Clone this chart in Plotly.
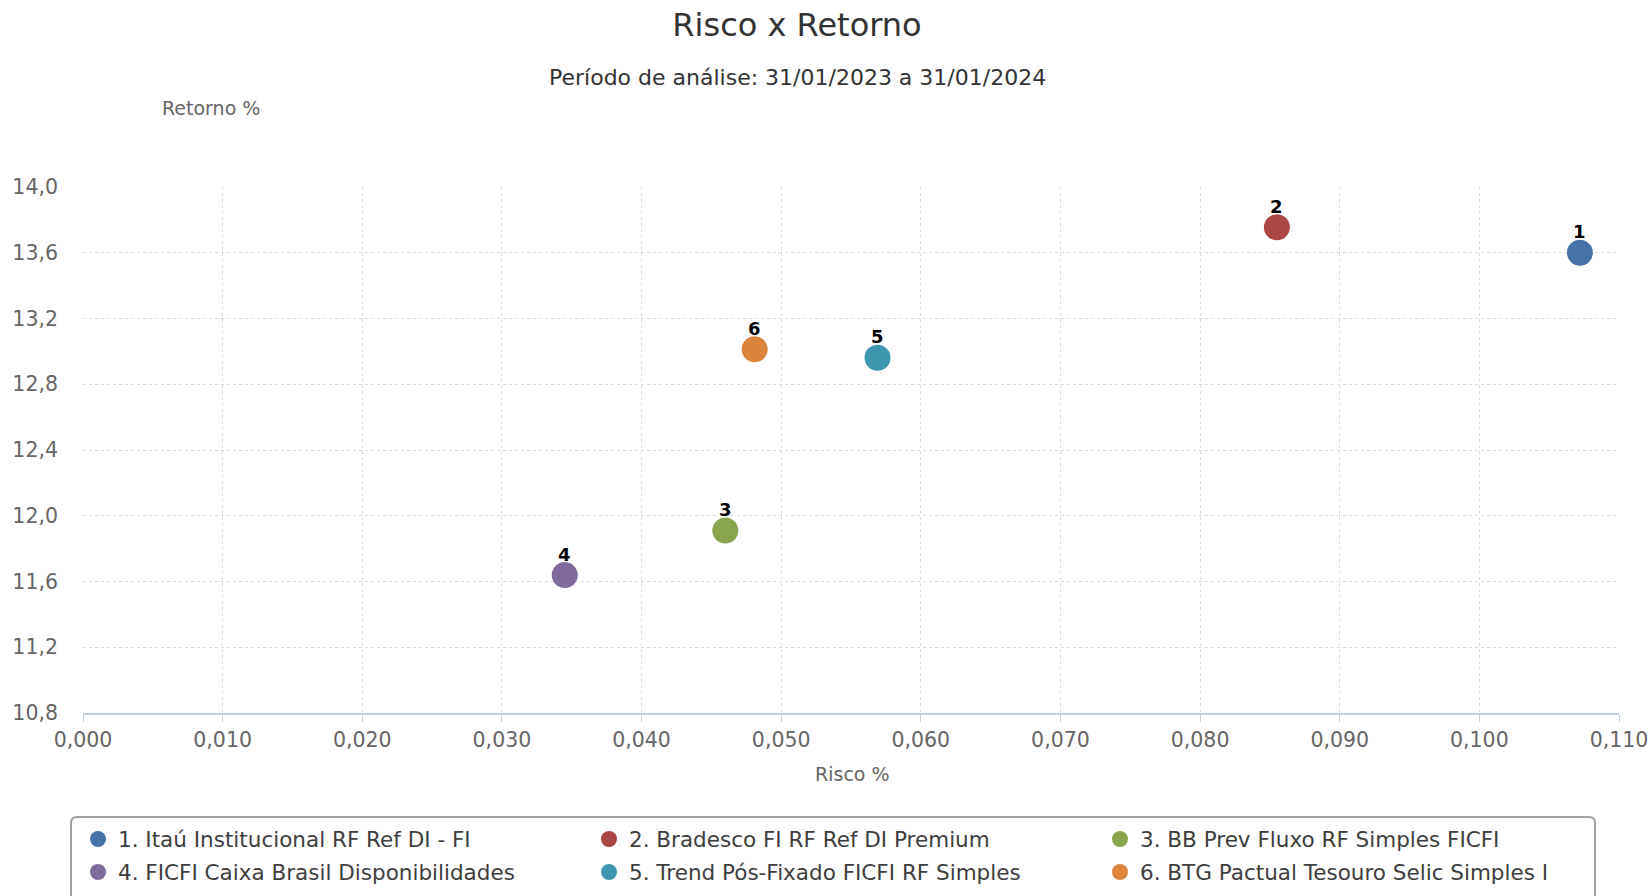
import plotly.graph_objects as go

# ---- data ----
fund_names = [
    "1. Itaú Institucional RF Ref DI - FI",
    "2. Bradesco FI RF Ref DI Premium",
    "3. BB Prev Fluxo RF Simples FICFI",
    "4. FICFI Caixa Brasil Disponibilidades",
    "5. Trend Pós-Fixado FICFI RF Simples",
    "6. BTG Pactual Tesouro Selic Simples I",
]
point_labels = ["1", "2", "3", "4", "5", "6"]
risco = [0.1072, 0.0855, 0.0460, 0.0345, 0.0569, 0.0481]
retorno = [13.600, 13.755, 11.910, 11.639, 12.961, 13.013]
colors = ["#4572A7", "#AA4643", "#89A54E", "#80699B", "#3D96AE", "#DB843D"]

x_ticks = [0.0, 0.01, 0.02, 0.03, 0.04, 0.05, 0.06, 0.07, 0.08, 0.09, 0.10, 0.11]
y_ticks = [10.8, 11.2, 11.6, 12.0, 12.4, 12.8, 13.2, 13.6, 14.0]

FONT = "DejaVu Sans"
W, H = 1650, 896
L, R, T, B = 83, 31, 187, 183
PW, PH = W - L - R, H - T - B


def px_x(px):
    return (px - L) / PW


def px_y(py):
    return (H - B - py) / PH


fig = go.Figure()
for i in range(len(fund_names)):
    fig.add_trace(go.Scatter(
        x=[risco[i]], y=[retorno[i]],
        mode="markers",
        name=fund_names[i],
        marker=dict(size=26, color=colors[i], line=dict(width=0)),
        legend="legend" if i < 3 else "legend2",
        cliponaxis=False,
    ))
    # point number label above each marker
    fig.add_annotation(x=risco[i], y=retorno[i], text=point_labels[i], showarrow=False,
                       xanchor="center", yanchor="middle", yshift=21,
                       font=dict(family=FONT, size=18, color="#000000", weight="bold",
                                 shadow="1px 1px 1px #fff, -1px -1px 1px #fff, 1px -1px 1px #fff, -1px 1px 1px #fff"))

legend_common = dict(orientation="h", x=px_x(78), xanchor="left", yanchor="middle",
                     entrywidth=466, entrywidthmode="pixels", bgcolor="rgba(0,0,0,0)",
                     font=dict(family=FONT, size=21.5, color="#3E3E3E"), itemsizing="trace")

fig.update_layout(
    width=W, height=H,
    margin=dict(l=L, r=R, t=T, b=B, autoexpand=False),
    paper_bgcolor="white", plot_bgcolor="white",
    separators=",.",
    font=dict(family=FONT, color="#666666"),
    title=dict(text="Risco x Retorno", x=797 / W, xanchor="center", xref="container",
               y=1 - 25 / H, yanchor="middle", yref="container",
               font=dict(family=FONT, size=32, color="#333333")),
    xaxis=dict(range=[0, 0.11], tickvals=x_ticks, tickformat=".3f",
               showgrid=True, gridcolor="#DADADA", griddash="dot", gridwidth=1,
               zeroline=False, showline=True, linecolor="#C0D0E0", linewidth=2,
               ticks="outside", ticklen=7, tickcolor="#C0D0E0", tickwidth=1,
               tickfont=dict(family=FONT, size=20.5, color="#666666")),
    yaxis=dict(range=[10.8, 14.0], tickvals=y_ticks, tickformat=".1f",
               showgrid=True, gridcolor="#DADADA", griddash="dot", gridwidth=1,
               zeroline=False, showline=False, ticks="", ticklabelstandoff=24,
               tickfont=dict(family=FONT, size=20.5, color="#666666")),
    legend=dict(legend_common, y=px_y(839)),
    legend2=dict(legend_common, y=px_y(872)),
    showlegend=True,
)

# subtitle, axis titles
fig.add_annotation(text="Período de análise: 31/01/2023 a 31/01/2024", x=px_x(797), y=px_y(78),
                   xref="paper", yref="paper", showarrow=False, xanchor="center", yanchor="middle",
                   font=dict(family=FONT, size=22, color="#333333"))
fig.add_annotation(text="Retorno %", x=px_x(211), y=px_y(108),
                   xref="paper", yref="paper", showarrow=False, xanchor="center", yanchor="middle",
                   font=dict(family=FONT, size=19, color="#666666"))
fig.add_annotation(text="Risco %", x=px_x(852), y=px_y(774),
                   xref="paper", yref="paper", showarrow=False, xanchor="center", yanchor="middle",
                   font=dict(family=FONT, size=19, color="#666666"))

# legend frame with rounded corners (pixel geometry converted to paper coords)
x0, x1, y0, y1, r = 71, 1595, 817, 910, 6
segs = [("M", x0 + r, y0), ("L", x1 - r, y0), ("Q", x1, y0), ("", x1, y0 + r), ("L", x1, y1),
        ("L", x0, y1), ("L", x0, y0 + r), ("Q", x0, y0), ("", x0 + r, y0)]
path = " ".join(f"{c} {px_x(a):.5f},{px_y(b):.5f}".strip() for c, a, b in segs) + " Z"
fig.add_shape(type="path", path=path, xref="paper", yref="paper", line=dict(color="#A0A0A0", width=2))

fig.write_html("out.html", config={"displayModeBar": False},
               post_script="document.body.style.margin='0';document.body.style.overflow='hidden';")
